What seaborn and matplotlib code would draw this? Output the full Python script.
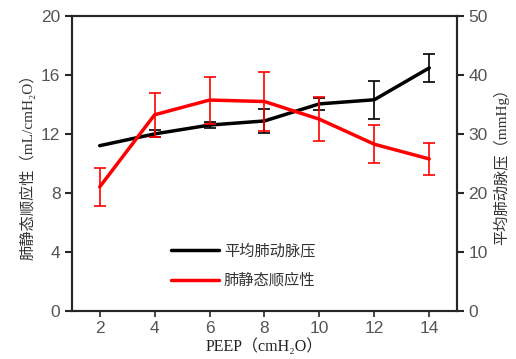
import numpy as np
import seaborn as sns
import matplotlib.pyplot as plt
from matplotlib.lines import Line2D

peep = [2, 4, 6, 8, 10, 12, 14]
# 肺静态顺应性 (left axis)
compliance = [8.4, 13.3, 14.3, 14.2, 13.0, 11.3, 10.3]
compliance_err = [1.3, 1.5, 1.6, 2.0, 1.5, 1.3, 1.1]
# 平均肺动脉压 (right axis)
mpap = [28.0, 30.0, 31.5, 32.2, 35.1, 35.8, 41.2]
mpap_err = [0.0, 0.6, 0.5, 2.1, 1.0, 3.2, 2.3]

sns.set_style("ticks")
plt.rcParams['font.family'] = ['Liberation Serif', 'Noto Sans CJK SC', 'DejaVu Sans']

tick_font = dict(family='Liberation Sans', size=12.5, color='#555555')

fig, ax = plt.subplots(figsize=(5.16, 3.59), dpi=100)
ax2 = ax.twinx()

sns.lineplot(x=peep, y=mpap, ax=ax2, color='black', linewidth=2.5)
# no visible bar where the error is zero
idx = [i for i, e in enumerate(mpap_err) if e > 0]
ax2.errorbar([peep[i] for i in idx], [mpap[i] for i in idx],
             yerr=[mpap_err[i] for i in idx], fmt='none', ecolor='black',
             elinewidth=1.2, capsize=4, capthick=1.2)

sns.lineplot(x=peep, y=compliance, ax=ax, color='red', linewidth=2.5)
ax.errorbar(peep, compliance, yerr=compliance_err, fmt='none', ecolor='red',
            elinewidth=1.2, capsize=4, capthick=1.2)

ax.set_zorder(ax2.get_zorder() + 1)
ax.patch.set_visible(False)

ax.set_xlim(1, 15)
ax.set_ylim(0, 20)
ax2.set_ylim(0, 50)
ax.set_xticks(peep)
ax.set_yticks([0, 4, 8, 12, 16, 20])
ax2.set_yticks([0, 10, 20, 30, 40, 50])

for a in (ax, ax2):
    for s in a.spines.values():
        s.set_linewidth(1.5)
    a.tick_params(width=1.5, length=5)
    for lab in a.get_xticklabels() + a.get_yticklabels():
        lab.set_fontfamily(tick_font['family'])
        lab.set_fontsize(tick_font['size'])
        lab.set_color(tick_font['color'])
ax.tick_params(axis='x', length=4, width=1.2)

ax.set_xlabel('PEEP（cmH₂O）', fontsize=11.5, labelpad=2, color='#222222')
ax.set_ylabel('肺静态顺应性（mL/cmH₂O）', fontsize=11, color='#333333')
ax2.set_ylabel('平均肺动脉压（mmHg）', fontsize=11, color='#333333')

handles = [Line2D([], [], color='black', linewidth=2.5),
           Line2D([], [], color='red', linewidth=2.5)]
leg = ax.legend(handles, ['平均肺动脉压', '肺静态顺应性'], loc='lower left',
                bbox_to_anchor=(0.22, 0.03), frameon=False, fontsize=11,
                handlelength=3.2, handletextpad=0.3, labelspacing=1.0)
for t in leg.get_texts():
    t.set_color('#333333')

fig.subplots_adjust(left=0.14, right=0.885, top=0.955, bottom=0.135)
fig.savefig('out.png', dpi=100)
